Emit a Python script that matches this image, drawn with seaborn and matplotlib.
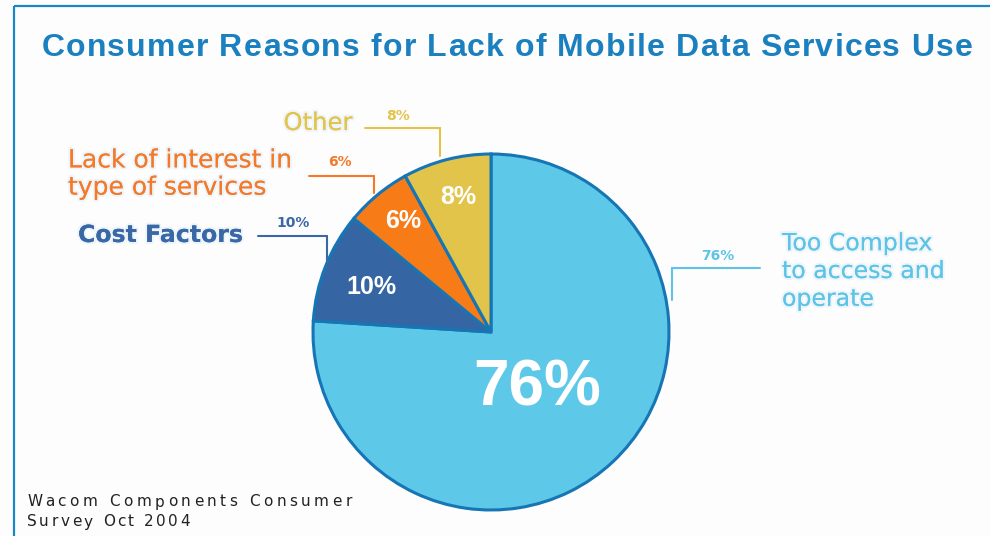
import matplotlib
matplotlib.use("Agg")
import matplotlib.pyplot as plt
import matplotlib.patheffects as pe
import seaborn as sns

# ---- data ----
categories = ["Too Complex\nto access and\noperate", "Cost Factors",
              "Lack of interest in\ntype of services", "Other"]
values = [76, 10, 6, 8]
pct_labels = ["76%", "10%", "6%", "8%"]
colors = ["#5ec8e8", "#3566a3", "#f77b17", "#e2c44a"]
label_colors = ["#5ec4e6", "#3a67a6", "#f47a2a", "#e2c44a"]
title = "Consumer Reasons for Lack of Mobile Data Services Use"
source_lines = ["Wacom Components Consumer", "Survey Oct 2004"]

sns.set_theme(style="white")
W, H = 990, 536
fig = plt.figure(figsize=(W / 100, H / 100), dpi=100)
fig.patch.set_facecolor("#fdfdfd")
ax = fig.add_axes([0, 0, 1, 1])

def Y(y):
    return H - y

cx, cy, R = 491, Y(332), 178
wedges, _ = ax.pie(values, colors=colors, startangle=90, counterclock=False,
                   center=(cx, cy), radius=R,
                   wedgeprops=dict(edgecolor="#1575b5", linewidth=2.2))
ax.set_xlim(0, W)
ax.set_ylim(0, H)
ax.set_aspect("equal")
ax.axis("off")

# frame lines (top and left)
edge = "#1a86c6"
ax.plot([14, W], [Y(6), Y(6)], color=edge, lw=1.6, solid_capstyle="butt")
ax.plot([14, 14], [Y(6), 0], color=edge, lw=1.6, solid_capstyle="butt")

renderer = fig.canvas.get_renderer()

def text_width(s, **kw):
    t = ax.text(0, 0, s, **kw)
    w = t.get_window_extent(renderer).width
    t.remove()
    return w

def advance(s, **kw):
    # advance width of s (robust to trailing spaces)
    return text_width(s + "|", **kw) - text_width("|", **kw)

def tracked_text(x0, y, s, tracking, **kw):
    """Draw text left-aligned with extra letter spacing (pixels)."""
    for i, ch in enumerate(s):
        if ch == " ":
            continue
        x = x0 + (advance(s[:i], **kw) if i else 0) + tracking * i
        ax.text(x, y, ch, ha="left", va="center", **kw)

# title
tkw = dict(color="#1a80bf", fontsize=23, fontweight="bold", family="Liberation Sans")
tw = advance(title, **tkw) + 1.2 * (len(title) - 1)
tracked_text(507 - tw / 2, Y(48), title, 1.2, **tkw)

# in-slice percentages
inner = [(537, 389, 46), (371, 287, 18), (403, 221, 18), (458, 197, 18)]
for (x, y, fs), t in zip(inner, pct_labels):
    ax.text(x, Y(y), t, ha="center", va="center", color="white",
            fontsize=fs, fontweight="bold", family="Liberation Sans")

# outside labels with leader lines
lab_font = "DejaVu Sans"
glow = [pe.withStroke(linewidth=3, foreground="#eef5fa"), pe.Normal()]
small = dict(fontsize=10, fontweight="bold", family="DejaVu Sans",
             ha="center", va="center")
# Too complex
ax.text(782, Y(271), categories[0], ha="left", va="center", color=label_colors[0],
        fontsize=17, family=lab_font, linespacing=1.2, path_effects=glow)
ax.plot([672, 760], [Y(268), Y(268)], color=label_colors[0], lw=1.5)
ax.plot([672, 672], [Y(268), Y(300)], color=label_colors[0], lw=1.5)
ax.text(718, Y(256), pct_labels[0], color=label_colors[0], **small)

# Cost factors
ax.text(243, Y(235), categories[1], ha="right", va="center", color=label_colors[1],
        fontsize=17, family=lab_font, fontweight="bold", path_effects=glow)
ax.plot([258, 327], [Y(236), Y(236)], color=label_colors[1], lw=1.5)
ax.plot([327, 327], [Y(236), Y(262)], color=label_colors[1], lw=1.5)
ax.text(293, Y(223), pct_labels[1], color=label_colors[1], **small)

# Lack of interest
ax.text(68, Y(174), categories[2], ha="left", va="center", color=label_colors[2],
        fontsize=18, family=lab_font, linespacing=1.17, path_effects=glow)
ax.plot([309, 374], [Y(176), Y(176)], color=label_colors[2], lw=1.5)
ax.plot([374, 374], [Y(176), Y(193)], color=label_colors[2], lw=1.5)
ax.text(340, Y(162), pct_labels[2], color=label_colors[2], **small)

# Other
ax.text(318, Y(123), categories[3], ha="center", va="center", color=label_colors[3],
        fontsize=17.5, family=lab_font, path_effects=glow)
ax.plot([365, 440], [Y(128), Y(128)], color=label_colors[3], lw=1.5)
ax.plot([440, 440], [Y(128), Y(156)], color=label_colors[3], lw=1.5)
ax.text(398, Y(116), pct_labels[3], color=label_colors[3], **small)

# source
skw = dict(color="#222222", fontsize=11, family="DejaVu Sans")
tracked_text(27, Y(502), source_lines[0], 3.5, **skw)
tracked_text(27, Y(522), source_lines[1], 2.5, **skw)

fig.savefig("out.png", dpi=100, facecolor=fig.get_facecolor())
